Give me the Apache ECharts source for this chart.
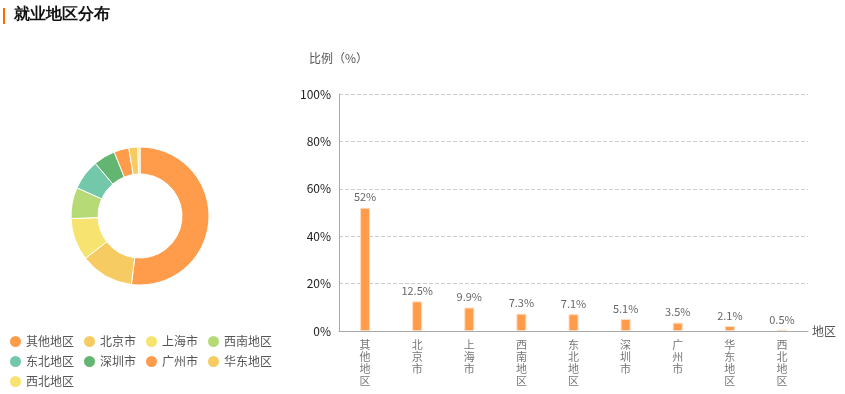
<!DOCTYPE html>
<html><head><meta charset="utf-8">
<script src="https://cdn.jsdelivr.net/npm/echarts@6/dist/echarts.min.js"></script>
<style>html,body{margin:0;padding:0;background:#fff}#c{width:845px;height:394px}</style>
</head><body><div id="c"></div>
<script>
const categories = ['其他地区','北京市','上海市','西南地区','东北地区','深圳市','广州市','华东地区','西北地区'];
const values = [52, 12.5, 9.9, 7.3, 7.1, 5.1, 3.5, 2.1, 0.5];
const yTicks = [0, 20, 40, 60, 80, 100];
const pieColors = ['#ff9c4c','#f6cc62','#f7e36f','#b6db76','#72c8a9','#63b671','#ff9c4c','#f6cc62','#f7e36f'];

const chart = echarts.init(document.getElementById('c'));
const font = '"Microsoft YaHei","Noto Sans CJK SC",sans-serif';
chart.setOption({
  textStyle:{fontFamily:font},
  graphic:[
    {type:'rect',left:3,top:8,shape:{width:2,height:16},style:{fill:'#ff6a00'}},
    {type:'text',left:14,top:7,style:{text:'就业地区分布',fontSize:16,fontWeight:'bold',fill:'#111',font:'bold 16px '+font}}
  ],
  legend:{
    left:3, top:329, width:290, itemWidth:13, itemHeight:13, itemGap:5,
    icon:'circle', textStyle:{fontSize:12,lineHeight:13,color:'#555',padding:[0,3,0,-1]},
    data:categories.map(c=>c)
  },
  grid:{left:339,right:37,top:94,bottom:63},
  xAxis:{
    type:'category', data:categories, name:'地区', nameGap:4,
    nameTextStyle:{color:'#555',fontSize:12},
    axisLine:{lineStyle:{color:'#aaa'}}, axisTick:{show:false},
    axisLabel:{color:'#777',fontSize:11,lineHeight:12,interval:0,
      formatter:v=>v.split('').join('\n')}
  },
  yAxis:{
    type:'value', min:0, max:100, interval:20, name:'比例（%）', nameGap:30,
    nameTextStyle:{color:'#555',fontSize:12,align:'right',padding:[0,-29,0,0]},
    axisLine:{show:true,lineStyle:{color:'#aaa'}}, axisTick:{show:false},
    axisLabel:{color:'#222',fontSize:12,margin:8,formatter:v=>yTicks.includes(v)?v+'%':''},
    splitLine:{lineStyle:{type:'dashed',color:'#ccc'}}
  },
  series:[
    {type:'pie', radius:[42,69], center:[140,216], startAngle:90, clockwise:true,
     label:{show:false}, labelLine:{show:false}, silent:true,
     itemStyle:{borderColor:'#fff',borderWidth:1},
     data:categories.map((c,i)=>({name:c,value:values[i],itemStyle:{color:pieColors[i]}}))},
    {type:'bar', data:values, barWidth:10, xAxisIndex:0, yAxisIndex:0,
     itemStyle:{color:'#ff9c4c',borderColor:'#ffdcc0',borderWidth:1},
     label:{show:true,position:'top',color:'#666',fontSize:11,formatter:p=>p.value+'%'}}
  ]
});
</script></body></html>
